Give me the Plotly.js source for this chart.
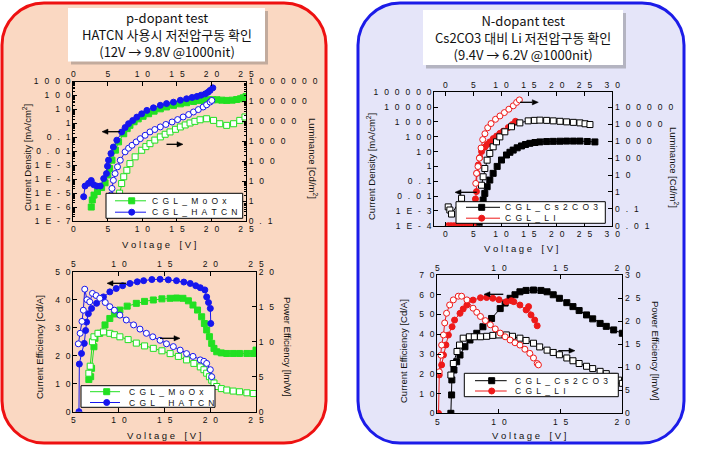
<!DOCTYPE html>
<html>
<head>
<meta charset="utf-8">
<script src="https://cdn.plot.ly/plotly-3.0.1.min.js"></script>
<style>
  body { margin: 0; background: #fff; }
  #plot { width: 702px; height: 450px; }
</style>
</head>
<body>
<div id="plot"></div>
<script>
// ---- 데이터 ----
// 왼쪽 위: J-V-L, CGL_MoOx / CGL_HATCN
const vJMoOx = [2.6,2.75,3.0,3.5,4.1,4.6,5.0,5.25,5.6,6.1,6.55,7.3,7.8,8.2,8.8,9.4,10.1,10.9,11.7,12.6,13.5,14.5,15.5,16.4,17.4,18.35,19.0,19.55,20.2,20.8,21.5,22.2,23.0,23.65,24.2,24.6,25.0];
const jMoOx = [1.0e-6,3.2e-6,7.2e-6,1.3e-5,2.5e-5,5.5e-5,2.0e-4,5.8e-4,2.3e-3,1.2e-2,4.7e-2,0.18,0.42,0.72,1.3,2.1,3.2,4.9,7.5,11,15,19.5,25,30,37,44,47,49,49.5,49,46,44,46,51,58,68,85];
const vLMoOx = [6.7,7.0,7.3,7.75,8.2,8.95,9.9,10.5,11.1,11.8,12.6,13.3,14.0,14.8,15.5,16.2,16.9,17.6,18.35,19.3,20.3,21.2,22.2,23.2,24.1,24.85];
const lMoOx = [2.5,7.6,16.6,35,76,166,355,540,760,1150,1660,2250,2950,4000,5250,6600,8300,10000,12000,13500,11200,7600,6300,7600,11200,16600];
const vJHATCN = [1.5,1.7,2.2,2.6,2.95,3.4,3.9,4.4,4.8,4.95,5.1,5.45,5.8,6.3,7.0,7.5,8.0,8.6,9.2,9.9,10.65,11.6,12.6,13.5,14.5,15.5,16.4,17.2,17.9,18.5,19.1,19.5,19.8,20.2];
const jHATCN = [5.5e-6,3.2e-5,5e-5,8e-5,4e-5,3.2e-5,3.2e-5,1.1e-4,2.5e-4,8.5e-4,2.3e-3,6.9e-3,2.0e-2,6.2e-2,0.24,0.5,0.95,1.6,2.8,4.8,8.5,13,19.5,26,33,45,58,72,85,105,130,170,230,350];
const vLHATCN = [5.45,5.6,5.8,6.05,6.4,6.8,7.5,8.0,8.5,9.1,9.7,10.4,11.1,11.8,12.6,13.4,14.3,15.1,15.9,16.7,17.4,18.1,18.8,19.3,19.8,20.05];
const lHATCN = [2,4.3,11,24,52,112,295,450,630,930,1350,2000,2950,3900,5250,7000,9300,12300,16600,22000,29500,39000,52500,68000,93000,112000];

// 왼쪽 아래: 효율, CGL_MoOx / CGL_HATCN
const vCEMoOx = [6.7,6.9,7.0,7.26,7.37,7.9,8.47,9.0,9.5,10.1,10.9,11.9,12.8,13.76,14.7,15.6,16.3,17.0,17.6,18.1,18.6,19.05,19.35,19.6,19.9,20.15,20.4,20.7,21.2,21.8,22.5,23.2,24.0,24.7,25.0];
const ceMoOx = [11.5,12.5,15.5,23.2,26.2,28.0,31.0,33.3,34.9,36.3,37.7,38.7,39.4,39.9,40.3,40.5,40.6,40.5,39.6,38.1,36.3,33.9,31.5,29.2,26.8,24.4,22.6,21.4,21.0,20.8,20.8,20.8,20.8,20.8,22.0];
const vPEMoOx = [6.7,6.85,7.1,7.26,7.7,8.3,9.0,9.5,10.1,11.0,11.9,12.8,13.76,14.7,15.6,16.5,17.4,18.2,18.9,19.3,19.6,19.9,20.15,20.4,20.7,21.2,21.8,22.5,23.2,24.0,24.7];
const peMoOx = [5.5,6.5,10.0,10.7,11.2,11.4,11.2,11.0,10.7,10.3,9.8,9.4,9.05,8.7,8.3,7.9,7.4,6.9,6.4,6.0,5.5,5.0,4.5,4.1,3.6,3.3,3.1,2.95,2.85,2.7,2.6];
const vCEHATCN = [5.62,5.66,5.9,6.2,6.35,6.45,6.65,7.0,7.55,8.3,9.0,9.7,10.4,11.2,12.0,12.7,13.6,14.5,15.4,16.3,17.1,17.8,18.4,18.9,19.4,19.6,19.8,20.0,20.05];
const ceHATCN = [0,17,20.8,24.4,29,32,35,36.9,38.7,41,42.8,44,45,45.8,46.4,46.8,47.2,47.3,47.1,46.8,46.3,45.8,45.0,44.3,43.5,41,39,36.9,31.5];
const vPEHATCN = [5.55,5.75,5.95,6.1,6.25,6.5,6.8,7.1,7.5,7.9,8.5,9.0,9.5,10.1,10.8,11.6,12.3,13.0,13.7,14.5,15.2,15.95,16.7,17.4,18.1,18.9,19.3,19.6,20.0,20.15];
const peHATCN = [9.7,11.2,12.9,14.5,17.5,16.0,15.7,16.9,16.6,16.2,15.6,15.0,14.5,13.8,13.1,12.4,11.8,11.2,10.7,10.2,9.7,9.3,8.8,8.3,7.9,7.4,7.2,6.9,6.0,5.0];

// 오른쪽 위: J-V-L, CGL_Cs2CO3 / CGL_LI
const vJCs = [6.06,6.3,6.48,6.78,7.08,7.5,7.98,8.58,9.3,10.08,10.98,11.6,12.18,12.9,13.68,14.4,15.18,16.1,16.98,18.2,19.38,20.6,21.78,23.0,24.18,25.5,26.87];
const jCs = [1e-4,4.1e-4,1.5e-3,5.4e-3,1.5e-2,4.3e-2,0.12,0.34,1.0,2.7,5.9,9,12.6,18,24,30,36,41,45,47.5,49,50,51,51,51,48,45];
const vLCs = [0.5,0.8,1.1,2.9,4.5,6.48,6.78,7.08,7.5,7.98,8.58,9.18,9.78,10.68,11.88,13.38,14.88,16.0,16.98,18.2,19.38,20.6,21.78,23.0,24.18,25.1,25.98];
const lCs = [0.13,0.085,0.049,0.42,null,2.5,7.9,24.5,76,190,470,930,1820,3630,7240,12300,16200,17300,17800,17300,16200,15200,14100,13200,12300,10900,9800];
const vJLi = [0.5,1.0,1.5,2.0,2.5,3.0,3.5,4.0,4.5,5.0,5.28,5.4,5.58,5.65,5.9,6.2,6.5,7.08,7.5,7.98,8.6,9.2,9.8,10.4,11.3,12.0,12.6];
const jLi = [1e-4,1e-4,1e-4,1e-4,1e-4,1e-4,1e-4,1e-4,1e-4,1e-4,1.9e-3,6.3e-3,0.02,0.35,1.26,4,10,20,30,45,75,112,170,240,420,660,1100];
const vLLi = [5.45,5.6,5.85,6.1,6.4,6.7,7.1,7.6,8.2,9.0,9.8,10.6,11.4,12.2,12.8,13.3];
const lLi = [3.2,12.6,32,100,400,1260,2800,6300,11200,20000,31600,50000,79000,126000,200000,282000];

// 오른쪽 아래: 효율, CGL_Cs2CO3 / CGL_LI
const vCECs = [6.1,6.16,6.18,6.35,6.57,6.84,7.24,7.65,8.2,8.7,9.4,10.1,10.5,10.9,11.3,11.7,12.2,12.8,13.4,13.9,14.4,14.9,15.5,16.0,16.5,17.1,17.6,18.2,18.7,19.3,20.0];
const ceCs = [0,9.3,16.9,21.9,26.1,29.5,33.7,37.1,40.5,43.8,48,53,55.8,58.2,60,61.5,62.2,62.4,62.2,61.5,60,58.2,56,54,52,49.8,47.8,45.5,44,42.2,40.5];
const vPECs = [6.1,6.3,6.6,6.8,7.1,7.6,8.0,8.5,9.0,9.5,10.0,10.6,11.1,11.7,12.2,12.8,13.3,13.9,14.4,14.9,15.5,16.0,16.5,17.1,17.6,18.2,18.7,19.3,19.7,20.0];
const peCs = [8.3,10.8,13.4,14.8,16.3,16.6,16.6,16.6,16.7,16.9,17.0,17.0,16.7,16.3,15.8,15.2,14.4,13.7,13.2,12.7,12.0,11.4,10.8,10.2,9.7,9.1,8.6,8.0,7.2,6.5];
const vCELi = [5.1,5.16,5.35,5.5,5.7,5.9,6.2,6.4,6.84,7.1,7.4,7.9,8.5,9.0,9.5,10.0,10.6,11.0,11.2,11.7,12.2,12.4,12.6,12.9,13.1];
const ceLi = [0,19.4,24.5,29.5,34.6,39.6,43.8,47.2,50.6,52.8,54.8,57.3,58.5,58.6,58.2,57.5,56.5,57,56.5,54.8,52.3,54,49.8,47.2,44.3];
const vPELi = [5.16,5.3,5.35,5.5,5.6,5.75,6.0,6.3,6.7,6.97,7.4,7.9,8.2,8.5,8.9,9.3,9.7,10.1,10.5,10.9,11.3,11.7,12.1,12.5,12.8,13.1,13.2];
const peLi = [9,12.6,14.8,17,19.6,21.7,23.5,24.6,25.4,25.4,24.6,22.8,21.9,21,20.1,19.2,18.3,17.4,16.6,15.9,15.3,14.8,13.9,13,12,10.8,10.5];

// 눈금 값/라벨
const jTicksA = [1e-7,1e-6,1e-5,1e-4,1e-3,0.01,0.1,1,10,100,1000];
const jLabelsA = ['1E-7','1E-6','1E-5','1E-4','1E-3','0.01','0.1','1','10','100','1000'];
const lTicksA = [0.1,1,10,100,1000,10000,100000,1000000];
const lLabelsA = ['0.1','1','10','100','1000','10000','100000','1000000'];
const jTicksB = [1e-4,1e-3,0.01,0.1,1,10,100,1000,10000,100000];
const jLabelsB = ['1E-4','1E-3','0.01','0.1','1','10','100','1000','10000','100000'];
const lTicksB = [0.01,0.1,1,10,100,1000,10000,100000];
const lLabelsB = ['0.01','0.1','1','10','100','1000','10000','100000'];

const W = 702, H = 450;
const fx = p => p / W;
const fy = p => 1 - p / H;
// Origin 식 넓은 글자 간격
const spTick = s => s.split('').join('\u2002\u2009');
const sp = s => s.split('').join('\u2002');

const GREEN = '#22e022', BLUE = '#1616ee', RED = '#ee1a1a', BLACK = '#000000';
const TICKFONT = {family: 'Liberation Sans, Arial, sans-serif', size: 8.5, color: '#111'};

function series(x, y, xa, ya, color, sym, open) {
    return {
        type: 'scatter', mode: 'lines+markers', x: x, y: y, xaxis: xa, yaxis: ya,
        line: {color: color, width: 1},
        marker: {symbol: sym, size: 6, color: open ? '#ffffff' : color, line: {color: color, width: 1}},
        hoverinfo: 'skip', showlegend: false
    };
}

function ax(extra) {
    return Object.assign({
        showline: true, linecolor: '#000', linewidth: 1,
        ticks: 'inside', ticklen: 4, tickcolor: '#000', tickwidth: 1,
        showgrid: false, zeroline: false, tickfont: TICKFONT, fixedrange: true,
        tickmode: 'array'
    }, extra);
}
function linTicks(vals) {
    return {tickvals: vals, ticktext: vals.map(v => spTick(String(v)))};
}
function logTicks(vals, labels) {
    return {tickvals: vals, ticktext: labels.map(spTick)};
}

const data = [
    series(vJMoOx, jMoOx, 'x', 'y', GREEN, 'square', false),
    series(vJHATCN, jHATCN, 'x', 'y', BLUE, 'circle', false),
    series(vLMoOx, lMoOx, 'x5', 'y2', GREEN, 'square', true),
    series(vLHATCN, lHATCN, 'x5', 'y2', BLUE, 'circle', true),

    series(vJCs, jCs, 'x2', 'y3', BLACK, 'square', false),
    series(vJLi, jLi, 'x2', 'y3', RED, 'circle', false),
    series(vLCs, lCs, 'x6', 'y4', BLACK, 'square', true),
    series(vLLi, lLi, 'x6', 'y4', RED, 'circle', true),

    series(vCEMoOx, ceMoOx, 'x3', 'y5', GREEN, 'square', false),
    series(vCEHATCN, ceHATCN, 'x3', 'y5', BLUE, 'circle', false),
    series(vPEMoOx, peMoOx, 'x7', 'y6', GREEN, 'square', true),
    series(vPEHATCN, peHATCN, 'x7', 'y6', BLUE, 'circle', true),

    series(vCECs, ceCs, 'x4', 'y7', BLACK, 'square', false),
    series(vCELi, ceLi, 'x4', 'y7', RED, 'circle', false),
    series(vPECs, peCs, 'x8', 'y8', BLACK, 'square', true),
    series(vPELi, peLi, 'x8', 'y8', RED, 'circle', true)
];

const P = (x, y) => fx(x).toFixed(5) + ',' + fy(y).toFixed(5);

// 둥근 패널 경로 (픽셀 -> paper)
function rrPath(x0, y0, x1, y1, r) {
    const k = 0.5523 * r;
    return 'M' + P(x0 + r, y0) + ' L' + P(x1 - r, y0) +
        ' C' + P(x1 - r + k, y0) + ' ' + P(x1, y0 + r - k) + ' ' + P(x1, y0 + r) +
        ' L' + P(x1, y1 - r) +
        ' C' + P(x1, y1 - r + k) + ' ' + P(x1 - r + k, y1) + ' ' + P(x1 - r, y1) +
        ' L' + P(x0 + r, y1) +
        ' C' + P(x0 + r - k, y1) + ' ' + P(x0, y1 - r + k) + ' ' + P(x0, y1 - r) +
        ' L' + P(x0, y0 + r) +
        ' C' + P(x0, y0 + r - k) + ' ' + P(x0 + r - k, y0) + ' ' + P(x0 + r, y0) + ' Z';
}
function rect(x0, y0, x1, y1, fill, lineColor, lineWidth, layer) {
    return {type: 'rect', xref: 'paper', yref: 'paper', x0: fx(x0), x1: fx(x1), y0: fy(y1), y1: fy(y0),
        fillcolor: fill, line: {color: lineColor || fill, width: lineWidth || 0}, layer: layer || 'below'};
}

const shapes = [
    {type: 'path', xref: 'paper', yref: 'paper', path: rrPath(2, 3, 326, 443, 42),
        fillcolor: '#fad8c2', line: {color: '#ee1111', width: 3}, layer: 'below'},
    {type: 'path', xref: 'paper', yref: 'paper', path: rrPath(358, 3, 684, 443, 42),
        fillcolor: '#e5e5f9', line: {color: '#1c1ce8', width: 3}, layer: 'below'},
    rect(71, 11, 268, 64.5, 'rgba(90,90,90,0.35)'),
    rect(68, 8, 265, 61.5, '#ffffff'),
    rect(426, 13, 626, 68.5, 'rgba(90,90,90,0.35)'),
    rect(423, 10, 623, 65, '#ffffff')
];

// 축 지시 화살표: 선 + 삼각형 머리
function arrow(xHead, y, xTail) {
    const dir = xHead < xTail ? 1 : -1;
    const base = xHead + dir * 6;
    shapes.push({type: 'line', xref: 'paper', yref: 'paper', x0: fx(xTail), x1: fx(base), y0: fy(y), y1: fy(y),
        line: {color: '#000', width: 1.3}, layer: 'above'});
    shapes.push({type: 'path', xref: 'paper', yref: 'paper',
        path: 'M' + P(xHead, y) + ' L' + P(base, y - 2.6) + ' L' + P(base, y + 2.6) + ' Z',
        fillcolor: '#000', line: {color: '#000', width: 0.5}, layer: 'above'});
}

const annotations = [];
function text(x, y, t, font, extra) {
    annotations.push(Object.assign({xref: 'paper', yref: 'paper', x: fx(x), y: fy(y), text: t,
        showarrow: false, font: font, xanchor: 'center', yanchor: 'middle'}, extra || {}));
}

// 제목 상자
const TF = {family: 'Noto Sans CJK KR, sans-serif', size: 13, color: '#111'};
text(166.5, 35, 'p-dopant test<br>HATCN 사용시 저전압구동 확인<br>(12V \u2192 9.8V @1000nit)', TF);
text(522.5, 37.8, 'N-dopant test<br>Cs2CO3 대비 Li 저전압구동 확인<br>(9.4V \u2192 6.2V @1000nit)', TF);

// 축 제목
const AF = {family: 'Liberation Sans, Arial, sans-serif', size: 9.5, color: '#111'};
const volt = 'V o l t a g e\u2002\u2002[ V ]';
text(27, 158, 'Current Density [mA/cm<sup>2</sup>]', AF, {textangle: -90});
text(313, 158, 'Luminance [Cd/m<sup>2</sup>]', AF, {textangle: 90});
text(159, 244, volt, AF);
text(39, 347, 'Current Efficiency [Cd/A]', AF, {textangle: -90});
text(288, 347, 'Power Efficiency [lm/W]', AF, {textangle: 90});
text(164, 435.5, volt, AF);
text(371, 167, 'Current Density [mA/cm<sup>2</sup>]', AF, {textangle: -90});
text(674, 167, 'Luminance [Cd/m<sup>2</sup>]', AF, {textangle: 90});
text(521, 248.5, volt, AF);
text(403, 351, 'Current Efficiency [Cd/A]', AF, {textangle: -90});
text(656, 351, 'Power Efficiency [lm/W]', AF, {textangle: 90});
text(529, 435.5, volt, AF);

arrow(102, 131.7, 120);
arrow(183, 144.3, 166.5);
arrow(107, 283.3, 126);
arrow(180, 338.3, 160);
arrow(455, 192.3, 476.7);
arrow(538.3, 102.3, 520);
arrow(484, 294.3, 503.3);
arrow(575, 350.7, 558.3);

// 범례 (상자 + 선 + 기호 + 글자)
const LF = {family: 'Liberation Sans, Arial, sans-serif', size: 8.5, color: '#111'};
function legend(box, lx0, lx1, mx, tx, items) {
    shapes.push(rect(box[0], box[1], box[2], box[3], '#ffffff', '#000000', 1, 'above'));
    items.forEach(it => {
        shapes.push({type: 'line', xref: 'paper', yref: 'paper', x0: fx(lx0), x1: fx(lx1), y0: fy(it.y), y1: fy(it.y),
            line: {color: it.color, width: 1}, layer: 'above'});
        shapes.push({type: it.sym === 'square' ? 'rect' : 'circle', xref: 'paper', yref: 'paper',
            x0: fx(mx - 3), x1: fx(mx + 3), y0: fy(it.y + 3), y1: fy(it.y - 3),
            fillcolor: it.color, line: {color: it.color, width: 1}, layer: 'above'});
        text(tx, it.y, sp(it.label), LF, {xanchor: 'left'});
    });
}
legend([106, 193.3, 242.7, 218.3], 115, 146, 131.7, 150, [
    {y: 200.8, color: GREEN, sym: 'square', label: 'CGL_MoOx'},
    {y: 212.2, color: BLUE, sym: 'circle', label: 'CGL_HATCN'}]);
legend([81, 385.7, 215, 407.3], 90, 120, 106.7, 126.5, [
    {y: 391.7, color: GREEN, sym: 'square', label: 'CGL_MoOx'},
    {y: 402.5, color: BLUE, sym: 'circle', label: 'CGL_HATCN'}]);
legend([456, 201.7, 605.3, 223.3], 466, 500, 481.7, 503.3, [
    {y: 207.3, color: BLACK, sym: 'square', label: 'CGL_Cs2CO3'},
    {y: 218.2, color: RED, sym: 'circle', label: 'CGL_LI'}]);
legend([464.3, 373.3, 618.3, 396.7], 475, 506.7, 491.7, 512.7, [
    {y: 380.7, color: BLACK, sym: 'square', label: 'CGL_Cs2CO3'},
    {y: 391, color: RED, sym: 'circle', label: 'CGL_LI'}]);

const xTA = linTicks([0, 5, 10, 15, 20, 25]);
const xTB = linTicks([0, 5, 10, 15, 20, 25, 30]);
const xTC = linTicks([5, 10, 15, 20, 25]);
const xTD = linTicks([5, 10, 15, 20]);
const minorLog = {ticks: 'inside', ticklen: 2, tickcolor: '#000', dtick: 'D1'};

const layout = {
    width: W, height: H,
    margin: {l: 0, r: 0, t: 0, b: 0},
    paper_bgcolor: '#ffffff', plot_bgcolor: 'rgba(0,0,0,0)',
    showlegend: false,
    shapes: shapes, annotations: annotations,

    // 왼쪽 위
    xaxis: ax(Object.assign({domain: [fx(73.3), fx(246)], anchor: 'y', range: [0, 25]}, xTA)),
    xaxis5: ax(Object.assign({overlaying: 'x', side: 'top', anchor: 'y', range: [0, 25]}, xTA)),
    yaxis: ax(Object.assign({domain: [fy(221), fy(81.5)], anchor: 'x', type: 'log', range: [-7, 3], minor: minorLog}, logTicks(jTicksA, jLabelsA))),
    yaxis2: ax(Object.assign({overlaying: 'y', side: 'right', anchor: 'x', type: 'log', range: [-1, 6], minor: minorLog}, logTicks(lTicksA, lLabelsA))),

    // 오른쪽 위
    xaxis2: ax(Object.assign({domain: [fx(434.3), fx(612.3)], anchor: 'y3', range: [-2, 30]}, xTB)),
    xaxis6: ax(Object.assign({overlaying: 'x2', side: 'top', anchor: 'y3', range: [-2, 30]}, xTB)),
    yaxis3: ax(Object.assign({domain: [fy(225.7), fy(92.3)], anchor: 'x2', type: 'log', range: [-4, 5]}, logTicks(jTicksB, jLabelsB))),
    yaxis4: ax(Object.assign({overlaying: 'y3', side: 'right', anchor: 'x2', type: 'log', range: [-2, 5.9]}, logTicks(lTicksB, lLabelsB))),

    // 왼쪽 아래
    xaxis3: ax(Object.assign({domain: [fx(73.3), fx(256)], anchor: 'y5', range: [5, 25]}, xTC)),
    xaxis7: ax(Object.assign({overlaying: 'x3', side: 'top', anchor: 'y5', range: [5, 25]}, xTC)),
    yaxis5: ax(Object.assign({domain: [fy(411.7), fy(271.7)], anchor: 'x3', range: [0, 50]}, linTicks([0, 10, 20, 30, 40, 50]))),
    yaxis6: ax(Object.assign({overlaying: 'y5', side: 'right', anchor: 'x3', range: [0, 20]}, linTicks([0, 5, 10, 15, 20]))),

    // 오른쪽 아래
    xaxis4: ax(Object.assign({domain: [fx(437.3), fx(622.3)], anchor: 'y7', range: [5, 20]}, xTD)),
    xaxis8: ax(Object.assign({overlaying: 'x4', side: 'top', anchor: 'y7', range: [5, 20]}, xTD)),
    yaxis7: ax(Object.assign({domain: [fy(413.3), fy(275)], anchor: 'x4', range: [0, 70]}, linTicks([0, 10, 20, 30, 40, 50, 60, 70]))),
    yaxis8: ax(Object.assign({overlaying: 'y7', side: 'right', anchor: 'x4', range: [0, 30]}, linTicks([0, 5, 10, 15, 20, 25, 30])))
};

Plotly.newPlot('plot', data, layout, {displayModeBar: false, staticPlot: true});
</script>
</body>
</html>
